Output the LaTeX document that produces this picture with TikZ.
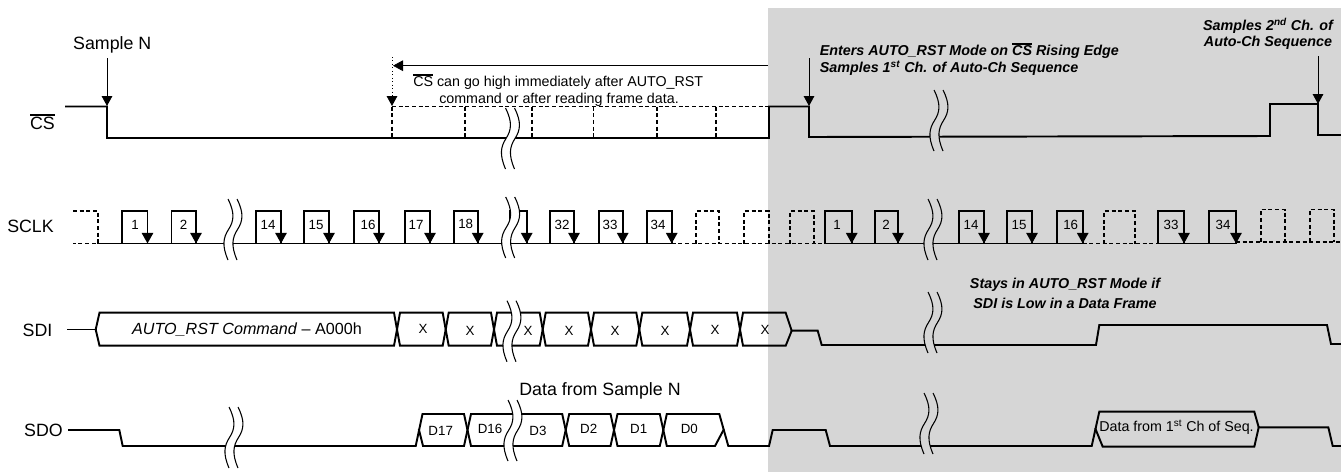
\documentclass[tikz,border=0pt]{standalone}
\usepackage{fontspec}
\setmainfont{Liberation Sans}
\usetikzlibrary{arrows.meta}
\definecolor{greyband}{HTML}{D6D6D6}
\newcommand\barred[1]{\setbox0\hbox{#1}\rlap{\raisebox{1.12\ht0}{\rule{\wd0}{0.085em}}}\box0 }
\newcommand\brk[3]{%
  \begin{scope}[shift={(#1,#2)}]
  \fill[#3] (0,0) .. controls (7,14) and (6,22) .. (0.5,30.5) .. controls (-5,39) and (-6,47) .. (0,61)
    -- (9,61) .. controls (3,47) and (4,39) .. (9.5,30.5) .. controls (15,22) and (16,14) .. (9,0) -- cycle;
  \draw[brkline] (0,0) .. controls (7,14) and (6,22) .. (0.5,30.5) .. controls (-5,39) and (-6,47) .. (0,61);
  \draw[brkline] (9,0) .. controls (16,14) and (15,22) .. (9.5,30.5) .. controls (4,39) and (3,47) .. (9,61);
  \end{scope}
}
\tikzset{
  sig/.style={line width=1.45pt,line join=miter,line cap=rect},
  dsh/.style={line width=1.4pt,dash pattern=on 3pt off 2pt},
  brkline/.style={line width=0.8pt},
  thinarrow/.style={line width=0.6pt,-{Triangle[width=8pt,length=7.5pt]}},
  edgearrow/.style={line width=1.45pt,-{Triangle[width=8.5pt,length=8pt]}},
  big/.style={font=\fontsize{13.35}{15}\selectfont,inner sep=0pt},
  note/.style={font=\fontsize{10.7}{13}\selectfont,inner sep=0pt},
  boldnote/.style={font=\fontsize{10.75}{13.4}\selectfont\bfseries\itshape,inner sep=0pt},
  tiny/.style={font=\fontsize{10}{12}\selectfont,inner sep=0pt},
}
\begin{document}
\begin{tikzpicture}[x=0.75pt,y=-0.75pt]
\useasboundingbox (0,0) rectangle (1341,472);
\fill[greyband] (768,8) rectangle (1341,472);

% CS waveform
\foreach \v in {392,465,532,593.5,657,716} \draw[dsh] (\v,106.5) -- (\v,138);
\draw[dsh,line width=1.1pt] (392,106.5) -- (769,106.5);
\draw[sig] (66,106.5) -- (107,106.5) -- (107,138) -- (769,138) -- (769,106.5) -- (809,106.5) -- (809,137) -- (1270,136) -- (1270,104) -- (1318,104) -- (1318,135) -- (1341,135);

% SCLK
\def\clo{243.5}\def\chig{211}
\draw[dsh] (73,\chig) -- (98,\chig) -- (98,\clo) -- (73,\clo);
\draw[dsh] (671.7,\clo) -- (825,\clo);
\foreach \r/\f in {696/719,744/768.7,790/814,1104/1135}
  \draw[dsh] (\r,\clo) -- (\r,\chig) -- (\f,\chig) -- (\f,\clo);
\draw[dsh] (1082.7,\clo) -- (1158,\clo);
\draw[dsh] (1236,242) -- (1341,242);
\foreach \r/\f in {1260.7/1285,1310/1334}
  \draw[dsh] (\r,242) -- (\r,209.5) -- (\f,209.5) -- (\f,242);
\draw[sig] (98,\clo) -- (671.7,\clo);
\draw[sig] (825,\clo) -- (1082.7,\clo);
\draw[sig] (1158,\clo) -- (1236,\clo);
\foreach \r/\f in {122/147.5,171.5/196,256/281,304/329,354/379,405/430,454/477.7,510/526.7,550/574,599/622.7,647/671.7,825/851.7,875/898,959/984,1007/1032,1056.7/1082.7,1158/1184,1209/1236}
  \draw[sig] (\r,\clo) -- (\r,\chig) -- (\f,\chig) -- (\f,\clo);
\foreach \f in {147.5,196,281,329,379,430,477.7,526.7,574,622.7,671.7,851.7,898,984,1032,1082.7,1184,1236}
  \draw[edgearrow] (\f,225) -- (\f,\clo);

% SDI
\def\dt{312.7}\def\db{345.7}\def\dm{329.5}
\draw[sig] (68,\dm) -- (95.7,\dm);
\draw[sig] (95.7,\dm) -- (99.5,\dt) -- (394,\dt) -- (397,\dm) -- (394,\db) -- (99.5,\db) -- cycle;
\foreach \a/\b in {397/445.7,445.7/494,494/542.7,542.7/591,591/639.3,639.3/690,690/740}
  \draw[sig] (\a,\dm) -- (\a+3,\dt) -- (\b-3,\dt) -- (\b,\dm) -- (\b-3,\db) -- (\a+3,\db) -- cycle;
\draw[sig] (740,\dm) -- (743,\dt) -- (785.7,\dt) -- (791.7,330.7) -- (785.7,\db) -- (743,\db) -- cycle;
\draw[sig] (791.7,330.7) -- (817.7,330.7) -- (821.7,345) -- (1096,345) -- (1099.3,325) -- (1327,325) -- (1331,344) -- (1341,344);

% SDO
\def\ot{414}\def\ob{446}\def\om{430}
\draw[sig] (69,\om) -- (119.3,\om) -- (122.7,\ob) -- (415.7,\ob) -- (422.5,\ot) -- (464,\ot) -- (467.5,\om) -- (464,\ob) -- (423,\ob) -- (419,\om);
\foreach \a/\b in {467.5/565.7,565.7/614,614/663.3}
  \draw[sig] (\a,\om) -- (\a+3.5,\ot) -- (\b-3.5,\ot) -- (\b,\om) -- (\b-3.5,\ob) -- (\a+3.5,\ob) -- cycle;
\draw[sig] (663.3,\om) -- (666.8,\ot) -- (719.3,\ot) -- (728.3,\ob) -- (769,\ob) -- (772.7,\om) -- (825.7,\om) -- (830,\ob) -- (1091.7,\ob) -- (1099.3,411.7) -- (1254.3,411.7) -- (1258.7,427.3) -- (1328.3,427.3) -- (1332.7,\ob) -- (1341,\ob);
\draw[sig] (663.3,\om) -- (666.8,\ob) -- (715,\ob) -- (723.5,\om);
\draw[sig] (1095.5,429) -- (1102.7,446.7) -- (1254.3,446.7) -- (1258.7,427.3);

% Breaks
\brk{505.5}{108}{white}
\brk{934}{90}{greyband}
\brk{228}{199}{white}
\brk{505.7}{197}{white}
\brk{928}{199}{greyband}
\brk{507}{300.7}{white}
\brk{928}{292}{greyband}
\brk{229}{407}{white}
\brk{508}{400}{white}
\brk{924}{393}{greyband}

% Annotation arrows
\coordinate (a1s) at (107,58); \coordinate (a1e) at (107,106);
\coordinate (a2s) at (809,58); \coordinate (a2e) at (809,106);
\coordinate (a3s) at (1318,56); \coordinate (a3e) at (1318,104);
\coordinate (hs) at (768,65.7); \coordinate (he) at (393,65.7);
\coordinate (ds) at (392,57); \coordinate (de) at (392,106);
\draw[thinarrow] (a1s) -- (a1e);
\draw[thinarrow] (a2s) -- (a2e);
\draw[thinarrow] (a3s) -- (a3e);
\draw[thinarrow] (hs) -- (he);
\draw[thinarrow,dotted] (ds) -- (de);

% Labels
\node[big] (samplen) at (112.3,44.5) {Sample N};
\node[big] (lcs) at (42.5,122) {\barred{CS}};
\node[big] (lsclk) at (30.5,226.7) {SCLK};
\node[big] (lsdi) at (37.5,330.7) {SDI};
\node[big] (lsdo) at (43.5,430.7) {SDO};
\node[note,anchor=west] (csnote1) at (413,82) {\barred{CS} can go high immediately after AUTO\_RST};
\node[note,anchor=west] (csnote2) at (439,99.5) {command or after reading frame data.};
\node[boldnote,anchor=west] (enter1) at (819.5,51) {Enters AUTO\_RST Mode on \barred{CS} Rising Edge};
\node[boldnote,anchor=west] (enter2) at (819.5,68) {Samples 1\textsuperscript{st} Ch. of Auto-Ch Sequence};
\node[boldnote] (samp2a) at (1268,26) {Samples 2\textsuperscript{nd} Ch. of};
\node[boldnote] (samp2b) at (1268,43) {Auto-Ch Sequence};
\node[boldnote] (stay1) at (1065,285) {Stays in AUTO\_RST Mode if};
\node[boldnote] (stay2) at (1065,303.3) {SDI is Low in a Data Frame};
\node[inner sep=0pt,font=\fontsize{12.1}{15}\selectfont] (cmd) at (247,329.5) {\textit{AUTO\_RST Command} – A000h};
\foreach \n/\v/\w in {1/135/225,2/183.6/225,14/268/225,15/316/225,16/368/225,17/416/225,18/465.7/224,32/562/225,33/610/225,34/658/225,1/837/225,2/886/225,14/971/225,15/1019/225,16/1070.7/225,33/1171/225,34/1223/225}
  \node[tiny] (n\n-\v) at (\v,\w) {\n};
\foreach \v/\w in {423/329,470/330.5,528/330.5,569/330.5,615/330.5,665/330.5,715/329.5,765/330}
  \node[tiny] (x\v) at (\v,\w) {X};
\node[tiny] (d17) at (440.7,430.7) {D17};
\node[tiny] (d16) at (490,429) {D16};
\node[tiny] (d3) at (538,430.5) {D3};
\node[tiny] (d2) at (588.7,429) {D2};
\node[tiny] (d1) at (638.7,429) {D1};
\node[tiny] (d0) at (689.3,429) {D0};
\node[big] (dsn) at (600,391) {Data from Sample N};
\node[note] (dfirst) at (1176.5,427) {Data from 1\textsuperscript{st} Ch of Seq.};
\end{tikzpicture}
\end{document}
